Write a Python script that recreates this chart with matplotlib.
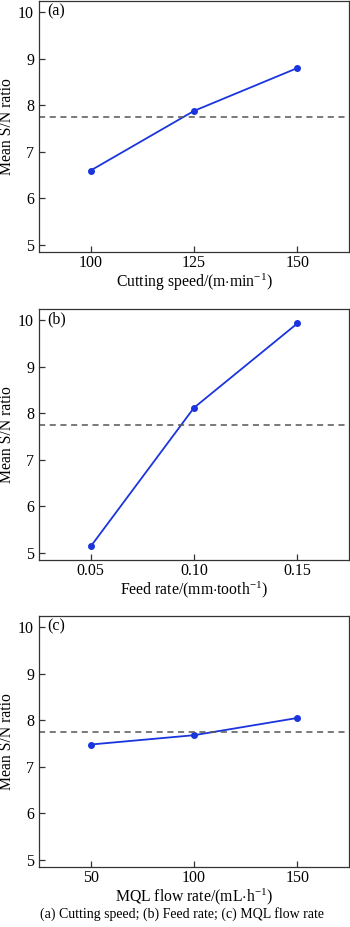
import numpy as np
import matplotlib
matplotlib.use("Agg")
import matplotlib.pyplot as plt

# Mean S/N ratio per factor level
speed_levels = [100, 125, 150]
speed_sn = [6.60, 7.88, 8.80]

feed_levels = [0.05, 0.10, 0.15]
feed_labels = ["0.05", "0.10", "0.15"]
feed_sn = [5.14, 8.12, 9.93]

mql_levels = [50, 100, 150]
mql_sn = [7.48, 7.68, 8.05]

grand_mean = 7.74
y_ticks = [5, 6, 7, 8, 9, 10]

panel_tags = ["(a)", "(b)", "(c)"]
x_titles = [r"Cutting speed/(m$\cdot$min$^{-1}$)",
            r"Feed rate/(mm$\cdot$tooth$^{-1}$)",
            r"MQL flow rate/(mL$\cdot$h$^{-1}$)"]
caption = "(a) Cutting speed; (b) Feed rate; (c) MQL flow rate"

plt.rcParams['font.family'] = ['Liberation Serif', 'DejaVu Serif']
plt.rcParams['mathtext.fontset'] = 'custom'
plt.rcParams['mathtext.rm'] = 'Liberation Serif'
plt.rcParams['mathtext.it'] = 'Liberation Serif:italic'
plt.rcParams['font.size'] = 11.5

LINE_COL = '#1a35dd'
DASH_COL = '#555555'
SPINE_COL = '#333333'

fig = plt.figure(figsize=(3.5, 9.27), dpi=100)
W, H = 350.0, 927.0
left, right = 39, 349
boxes = [(1, 252), (309, 560), (616, 867)]  # top, bottom in px

data = [
    (speed_levels, speed_sn, [str(v) for v in speed_levels], (87.5, 162.5)),
    (feed_levels, feed_sn, feed_labels, (0.025, 0.175)),
    (mql_levels, mql_sn, [str(v) for v in mql_levels], (25, 175)),
]

for i, ((xs, ys, xlabs, xlim), (top, bot)) in enumerate(zip(data, boxes)):
    ax = fig.add_axes([left / W, (H - bot) / H, (right - left) / W, (bot - top) / H])
    ax.plot(xs, ys, color=LINE_COL, lw=1.3, marker='o', ms=4)
    ax.axhline(grand_mean, color=DASH_COL, lw=1.1, dashes=(4, 3))
    ax.set_xlim(*xlim)
    ax.set_ylim(4.85, 10.24)
    ax.set_xticks(xs)
    ax.set_xticklabels(xlabs)
    ax.set_yticks(y_ticks)
    ax.tick_params(direction='in', length=4, width=0.9, color=SPINE_COL, pad=3.5,
                   labelsize=11.5)
    ax.tick_params(axis='x', pad=2.5)
    for sp in ax.spines.values():
        sp.set_color(SPINE_COL)
        sp.set_linewidth(0.9)
    ax.set_ylabel("Mean S/N ratio", fontsize=11.3)
    ax.yaxis.set_label_coords(-0.078, 0.5)
    ax.set_xlabel(x_titles[i], fontsize=11.3, labelpad=0)
    ax.text(0.026, 0.959, panel_tags[i], transform=ax.transAxes, ha='left', va='center',
            fontsize=11.5)

fig.text(182 / W, 1 - 914 / H, caption, ha='center', va='center', fontsize=10)

fig.savefig("out.png", dpi=100)
